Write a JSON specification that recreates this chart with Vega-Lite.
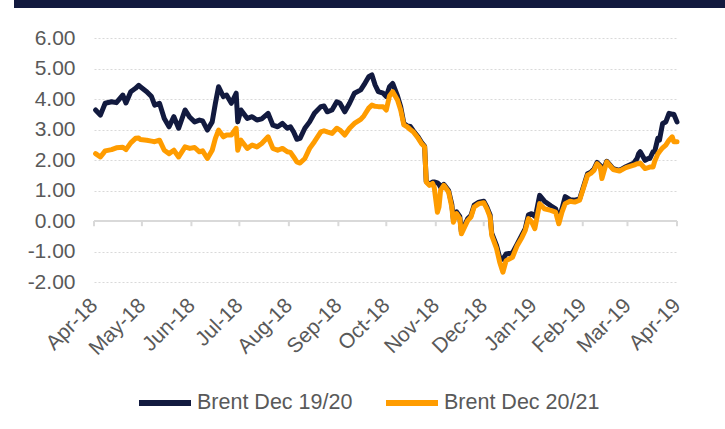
{
  "$schema": "https://vega.github.io/schema/vega-lite/v6.json",
  "padding": {"left": 14, "top": 0, "right": 0, "bottom": 0},
  "background": "white",
  "config": {"font": "Liberation Sans", "view": {"stroke": null}},
  "spacing": 30,
  "bounds": "flush",
  "center": true,
  "vconcat": [
    {
      "width": 743,
      "height": 8,
      "data": {"values": [{"part": "header"}]},
      "mark": {"type": "bar", "color": "#121a3f"},
      "encoding": {}
    },
    {
      "width": 583,
      "height": 244,
      "layer": [
        {
          "data": {"values": [{"line": "zero"}]},
          "mark": {"type": "rule", "color": "#d9d9d9", "strokeWidth": 2},
          "encoding": {
            "y": {
              "datum": 0,
              "type": "quantitative",
              "scale": {"domain": [-2, 6], "nice": false, "zero": false},
              "axis": {
                "title": null,
                "values": [-2, -1, 0, 1, 2, 3, 4, 5, 6],
                "tickCount": 12,
                "labelExpr": "replace(format(datum.value, '.2f'), '\u2212', '-')",
                "labelPadding": 19,
                "labelFontSize": 21,
                "labelColor": "#595959",
                "labelOverlap": false,
                "labelFlush": false,
                "domain": false,
                "ticks": false,
                "tickSize": 0,
                "grid": true,
                "gridColor": "#d9d9d9",
                "gridDash": [2, 2],
                "gridWidth": 1
              }
            }
          }
        },
        {
          "data": {"values": [
            {"month": "2018-04-01"}, {"month": "2018-05-01"}, {"month": "2018-06-01"}, {"month": "2018-07-01"},
            {"month": "2018-08-01"}, {"month": "2018-09-01"}, {"month": "2018-10-01"}, {"month": "2018-11-01"},
            {"month": "2018-12-01"}, {"month": "2019-01-01"}, {"month": "2019-02-01"}, {"month": "2019-03-01"},
            {"month": "2019-04-01"}
          ]},
          "mark": {"type": "rule", "color": "#d9d9d9", "strokeWidth": 2},
          "encoding": {
            "x": {"field": "month", "type": "temporal"},
            "y": {"datum": 0, "type": "quantitative"},
            "y2": {"datum": -0.17}
          }
        },
        {
          "data": {"values": [
            {"date": "2018-04-02", "Brent Dec 19/20": 3.64, "Brent Dec 20/21": 2.21},
            {"date": "2018-04-05", "Brent Dec 19/20": 3.47, "Brent Dec 20/21": 2.10},
            {"date": "2018-04-08", "Brent Dec 19/20": 3.86, "Brent Dec 20/21": 2.30},
            {"date": "2018-04-12", "Brent Dec 19/20": 3.91, "Brent Dec 20/21": 2.34},
            {"date": "2018-04-15", "Brent Dec 19/20": 3.88, "Brent Dec 20/21": 2.40},
            {"date": "2018-04-19", "Brent Dec 19/20": 4.13, "Brent Dec 20/21": 2.42},
            {"date": "2018-04-21", "Brent Dec 19/20": 3.87, "Brent Dec 20/21": 2.34},
            {"date": "2018-04-24", "Brent Dec 19/20": 4.24, "Brent Dec 20/21": 2.56},
            {"date": "2018-04-27", "Brent Dec 19/20": 4.35, "Brent Dec 20/21": 2.71},
            {"date": "2018-04-29", "Brent Dec 19/20": 4.45, "Brent Dec 20/21": 2.72},
            {"date": "2018-04-30", "Brent Dec 19/20": 4.40, "Brent Dec 20/21": 2.67},
            {"date": "2018-05-04", "Brent Dec 19/20": 4.24, "Brent Dec 20/21": 2.65},
            {"date": "2018-05-07", "Brent Dec 19/20": 4.08, "Brent Dec 20/21": 2.62},
            {"date": "2018-05-09", "Brent Dec 19/20": 3.80, "Brent Dec 20/21": 2.60},
            {"date": "2018-05-12", "Brent Dec 19/20": 3.86, "Brent Dec 20/21": 2.65},
            {"date": "2018-05-15", "Brent Dec 19/20": 3.36, "Brent Dec 20/21": 2.32},
            {"date": "2018-05-18", "Brent Dec 19/20": 3.09, "Brent Dec 20/21": 2.21},
            {"date": "2018-05-21", "Brent Dec 19/20": 3.42, "Brent Dec 20/21": 2.32},
            {"date": "2018-05-24", "Brent Dec 19/20": 3.04, "Brent Dec 20/21": 2.10},
            {"date": "2018-05-28", "Brent Dec 19/20": 3.64, "Brent Dec 20/21": 2.43},
            {"date": "2018-05-31", "Brent Dec 19/20": 3.40, "Brent Dec 20/21": 2.38},
            {"date": "2018-06-03", "Brent Dec 19/20": 3.25, "Brent Dec 20/21": 2.41},
            {"date": "2018-06-06", "Brent Dec 19/20": 3.31, "Brent Dec 20/21": 2.27},
            {"date": "2018-06-08", "Brent Dec 19/20": 3.28, "Brent Dec 20/21": 2.30},
            {"date": "2018-06-11", "Brent Dec 19/20": 2.98, "Brent Dec 20/21": 2.05},
            {"date": "2018-06-14", "Brent Dec 19/20": 3.25, "Brent Dec 20/21": 2.32},
            {"date": "2018-06-16", "Brent Dec 19/20": 3.86, "Brent Dec 20/21": 2.71},
            {"date": "2018-06-18", "Brent Dec 19/20": 4.40, "Brent Dec 20/21": 2.98},
            {"date": "2018-06-21", "Brent Dec 19/20": 4.08, "Brent Dec 20/21": 2.76},
            {"date": "2018-06-23", "Brent Dec 19/20": 4.13, "Brent Dec 20/21": 2.82},
            {"date": "2018-06-26", "Brent Dec 19/20": 3.86, "Brent Dec 20/21": 2.82},
            {"date": "2018-06-29", "Brent Dec 19/20": 4.19, "Brent Dec 20/21": 3.04},
            {"date": "2018-06-30", "Brent Dec 19/20": 3.25, "Brent Dec 20/21": 2.32},
            {"date": "2018-07-02", "Brent Dec 19/20": 3.64, "Brent Dec 20/21": 2.65},
            {"date": "2018-07-06", "Brent Dec 19/20": 3.36, "Brent Dec 20/21": 2.38},
            {"date": "2018-07-09", "Brent Dec 19/20": 3.42, "Brent Dec 20/21": 2.49},
            {"date": "2018-07-12", "Brent Dec 19/20": 3.31, "Brent Dec 20/21": 2.43},
            {"date": "2018-07-15", "Brent Dec 19/20": 3.35, "Brent Dec 20/21": 2.54},
            {"date": "2018-07-19", "Brent Dec 19/20": 3.53, "Brent Dec 20/21": 2.76},
            {"date": "2018-07-22", "Brent Dec 19/20": 3.14, "Brent Dec 20/21": 2.38},
            {"date": "2018-07-25", "Brent Dec 19/20": 3.09, "Brent Dec 20/21": 2.32},
            {"date": "2018-07-28", "Brent Dec 19/20": 3.20, "Brent Dec 20/21": 2.38},
            {"date": "2018-07-31", "Brent Dec 19/20": 3.04, "Brent Dec 20/21": 2.27},
            {"date": "2018-08-02", "Brent Dec 19/20": 3.09, "Brent Dec 20/21": 2.25},
            {"date": "2018-08-04", "Brent Dec 19/20": 2.92, "Brent Dec 20/21": 2.10},
            {"date": "2018-08-06", "Brent Dec 19/20": 2.68, "Brent Dec 20/21": 1.94},
            {"date": "2018-08-08", "Brent Dec 19/20": 2.71, "Brent Dec 20/21": 1.90},
            {"date": "2018-08-11", "Brent Dec 19/20": 3.04, "Brent Dec 20/21": 2.05},
            {"date": "2018-08-14", "Brent Dec 19/20": 3.25, "Brent Dec 20/21": 2.38},
            {"date": "2018-08-17", "Brent Dec 19/20": 3.53, "Brent Dec 20/21": 2.60},
            {"date": "2018-08-21", "Brent Dec 19/20": 3.75, "Brent Dec 20/21": 2.92},
            {"date": "2018-08-23", "Brent Dec 19/20": 3.77, "Brent Dec 20/21": 2.96},
            {"date": "2018-08-25", "Brent Dec 19/20": 3.58, "Brent Dec 20/21": 2.92},
            {"date": "2018-08-28", "Brent Dec 19/20": 3.64, "Brent Dec 20/21": 2.87},
            {"date": "2018-08-31", "Brent Dec 19/20": 3.91, "Brent Dec 20/21": 3.04},
            {"date": "2018-09-02", "Brent Dec 19/20": 3.86, "Brent Dec 20/21": 2.98},
            {"date": "2018-09-05", "Brent Dec 19/20": 3.58, "Brent Dec 20/21": 2.82},
            {"date": "2018-09-08", "Brent Dec 19/20": 3.86, "Brent Dec 20/21": 3.04},
            {"date": "2018-09-11", "Brent Dec 19/20": 4.19, "Brent Dec 20/21": 3.20},
            {"date": "2018-09-15", "Brent Dec 19/20": 4.30, "Brent Dec 20/21": 3.33},
            {"date": "2018-09-17", "Brent Dec 19/20": 4.46, "Brent Dec 20/21": 3.45},
            {"date": "2018-09-20", "Brent Dec 19/20": 4.73, "Brent Dec 20/21": 3.70},
            {"date": "2018-09-22", "Brent Dec 19/20": 4.79, "Brent Dec 20/21": 3.80},
            {"date": "2018-09-24", "Brent Dec 19/20": 4.46, "Brent Dec 20/21": 3.76},
            {"date": "2018-09-26", "Brent Dec 19/20": 4.24, "Brent Dec 20/21": 3.75},
            {"date": "2018-09-29", "Brent Dec 19/20": 4.19, "Brent Dec 20/21": 3.75},
            {"date": "2018-10-01", "Brent Dec 19/20": 4.08, "Brent Dec 20/21": 3.64},
            {"date": "2018-10-03", "Brent Dec 19/20": 4.40, "Brent Dec 20/21": 4.10},
            {"date": "2018-10-05", "Brent Dec 19/20": 4.51, "Brent Dec 20/21": 4.24},
            {"date": "2018-10-08", "Brent Dec 19/20": 4.10, "Brent Dec 20/21": 3.97},
            {"date": "2018-10-10", "Brent Dec 19/20": 3.75, "Brent Dec 20/21": 3.64},
            {"date": "2018-10-12", "Brent Dec 19/20": 3.20, "Brent Dec 20/21": 3.15},
            {"date": "2018-10-14", "Brent Dec 19/20": 3.12, "Brent Dec 20/21": 3.09},
            {"date": "2018-10-16", "Brent Dec 19/20": 3.10, "Brent Dec 20/21": 3.00},
            {"date": "2018-10-18", "Brent Dec 19/20": 2.95, "Brent Dec 20/21": 2.92},
            {"date": "2018-10-21", "Brent Dec 19/20": 2.75, "Brent Dec 20/21": 2.71},
            {"date": "2018-10-23", "Brent Dec 19/20": 2.58, "Brent Dec 20/21": 2.54},
            {"date": "2018-10-25", "Brent Dec 19/20": 2.45, "Brent Dec 20/21": 2.43},
            {"date": "2018-10-26", "Brent Dec 19/20": 1.30, "Brent Dec 20/21": 1.28},
            {"date": "2018-10-28", "Brent Dec 19/20": 1.20, "Brent Dec 20/21": 1.17},
            {"date": "2018-10-30", "Brent Dec 19/20": 1.28, "Brent Dec 20/21": 1.23},
            {"date": "2018-10-31", "Brent Dec 19/20": 1.28, "Brent Dec 20/21": 1.10},
            {"date": "2018-11-02", "Brent Dec 19/20": 1.25, "Brent Dec 20/21": 0.29},
            {"date": "2018-11-03", "Brent Dec 19/20": 1.20, "Brent Dec 20/21": 0.46},
            {"date": "2018-11-04", "Brent Dec 19/20": 1.10, "Brent Dec 20/21": 1.01},
            {"date": "2018-11-06", "Brent Dec 19/20": 1.20, "Brent Dec 20/21": 1.17},
            {"date": "2018-11-09", "Brent Dec 19/20": 1.00, "Brent Dec 20/21": 0.95},
            {"date": "2018-11-11", "Brent Dec 19/20": 0.55, "Brent Dec 20/21": 0.46},
            {"date": "2018-11-12", "Brent Dec 19/20": 0.05, "Brent Dec 20/21": -0.04},
            {"date": "2018-11-14", "Brent Dec 19/20": 0.30, "Brent Dec 20/21": 0.24},
            {"date": "2018-11-16", "Brent Dec 19/20": 0.15, "Brent Dec 20/21": 0.08},
            {"date": "2018-11-17", "Brent Dec 19/20": -0.35, "Brent Dec 20/21": -0.42},
            {"date": "2018-11-19", "Brent Dec 19/20": -0.15, "Brent Dec 20/21": -0.20},
            {"date": "2018-11-21", "Brent Dec 19/20": 0.08, "Brent Dec 20/21": 0.02},
            {"date": "2018-11-23", "Brent Dec 19/20": 0.18, "Brent Dec 20/21": 0.13},
            {"date": "2018-11-25", "Brent Dec 19/20": 0.52, "Brent Dec 20/21": 0.46},
            {"date": "2018-11-28", "Brent Dec 19/20": 0.62, "Brent Dec 20/21": 0.57},
            {"date": "2018-12-01", "Brent Dec 19/20": 0.65, "Brent Dec 20/21": 0.60},
            {"date": "2018-12-03", "Brent Dec 19/20": 0.45, "Brent Dec 20/21": 0.40},
            {"date": "2018-12-05", "Brent Dec 19/20": 0.20, "Brent Dec 20/21": 0.13},
            {"date": "2018-12-06", "Brent Dec 19/20": -0.40, "Brent Dec 20/21": -0.47},
            {"date": "2018-12-09", "Brent Dec 19/20": -0.80, "Brent Dec 20/21": -0.90},
            {"date": "2018-12-11", "Brent Dec 19/20": -1.20, "Brent Dec 20/21": -1.35},
            {"date": "2018-12-13", "Brent Dec 19/20": -1.25, "Brent Dec 20/21": -1.68},
            {"date": "2018-12-15", "Brent Dec 19/20": -1.08, "Brent Dec 20/21": -1.30},
            {"date": "2018-12-19", "Brent Dec 19/20": -1.05, "Brent Dec 20/21": -1.19},
            {"date": "2018-12-22", "Brent Dec 19/20": -0.75, "Brent Dec 20/21": -0.80},
            {"date": "2018-12-25", "Brent Dec 19/20": -0.45, "Brent Dec 20/21": -0.53},
            {"date": "2018-12-27", "Brent Dec 19/20": -0.25, "Brent Dec 20/21": -0.31},
            {"date": "2018-12-29", "Brent Dec 19/20": 0.20, "Brent Dec 20/21": 0.08},
            {"date": "2018-12-31", "Brent Dec 19/20": 0.24, "Brent Dec 20/21": -0.03},
            {"date": "2019-01-02", "Brent Dec 19/20": 0.15, "Brent Dec 20/21": -0.25},
            {"date": "2019-01-03", "Brent Dec 19/20": 0.30, "Brent Dec 20/21": 0.02},
            {"date": "2019-01-05", "Brent Dec 19/20": 0.84, "Brent Dec 20/21": 0.57},
            {"date": "2019-01-08", "Brent Dec 19/20": 0.65, "Brent Dec 20/21": 0.40},
            {"date": "2019-01-12", "Brent Dec 19/20": 0.50, "Brent Dec 20/21": 0.35},
            {"date": "2019-01-15", "Brent Dec 19/20": 0.40, "Brent Dec 20/21": 0.29},
            {"date": "2019-01-17", "Brent Dec 19/20": 0.05, "Brent Dec 20/21": -0.09},
            {"date": "2019-01-19", "Brent Dec 19/20": 0.40, "Brent Dec 20/21": 0.29},
            {"date": "2019-01-21", "Brent Dec 19/20": 0.80, "Brent Dec 20/21": 0.57},
            {"date": "2019-01-24", "Brent Dec 19/20": 0.70, "Brent Dec 20/21": 0.65},
            {"date": "2019-01-27", "Brent Dec 19/20": 0.68, "Brent Dec 20/21": 0.62},
            {"date": "2019-01-30", "Brent Dec 19/20": 0.72, "Brent Dec 20/21": 0.68},
            {"date": "2019-02-01", "Brent Dec 19/20": 1.05, "Brent Dec 20/21": 1.01},
            {"date": "2019-02-04", "Brent Dec 19/20": 1.55, "Brent Dec 20/21": 1.50},
            {"date": "2019-02-06", "Brent Dec 19/20": 1.60, "Brent Dec 20/21": 1.56},
            {"date": "2019-02-08", "Brent Dec 19/20": 1.70, "Brent Dec 20/21": 1.66},
            {"date": "2019-02-10", "Brent Dec 19/20": 1.92, "Brent Dec 20/21": 1.88},
            {"date": "2019-02-12", "Brent Dec 19/20": 1.82, "Brent Dec 20/21": 1.77},
            {"date": "2019-02-13", "Brent Dec 19/20": 1.56, "Brent Dec 20/21": 1.39},
            {"date": "2019-02-16", "Brent Dec 19/20": 1.96, "Brent Dec 20/21": 1.94},
            {"date": "2019-02-20", "Brent Dec 19/20": 1.72, "Brent Dec 20/21": 1.69},
            {"date": "2019-02-24", "Brent Dec 19/20": 1.66, "Brent Dec 20/21": 1.64},
            {"date": "2019-02-28", "Brent Dec 19/20": 1.78, "Brent Dec 20/21": 1.75},
            {"date": "2019-03-05", "Brent Dec 19/20": 1.90, "Brent Dec 20/21": 1.83},
            {"date": "2019-03-07", "Brent Dec 19/20": 2.05, "Brent Dec 20/21": 1.88},
            {"date": "2019-03-08", "Brent Dec 19/20": 2.21, "Brent Dec 20/21": 1.88},
            {"date": "2019-03-09", "Brent Dec 19/20": 2.27, "Brent Dec 20/21": 1.90},
            {"date": "2019-03-12", "Brent Dec 19/20": 1.99, "Brent Dec 20/21": 1.72},
            {"date": "2019-03-14", "Brent Dec 19/20": 2.05, "Brent Dec 20/21": 1.75},
            {"date": "2019-03-15", "Brent Dec 19/20": 2.05, "Brent Dec 20/21": 1.77},
            {"date": "2019-03-17", "Brent Dec 19/20": 2.27, "Brent Dec 20/21": 1.77},
            {"date": "2019-03-18", "Brent Dec 19/20": 2.27, "Brent Dec 20/21": 1.95},
            {"date": "2019-03-20", "Brent Dec 19/20": 2.71, "Brent Dec 20/21": 2.20},
            {"date": "2019-03-21", "Brent Dec 19/20": 2.65, "Brent Dec 20/21": 2.27},
            {"date": "2019-03-23", "Brent Dec 19/20": 3.20, "Brent Dec 20/21": 2.40},
            {"date": "2019-03-25", "Brent Dec 19/20": 3.25, "Brent Dec 20/21": 2.49},
            {"date": "2019-03-27", "Brent Dec 19/20": 3.53, "Brent Dec 20/21": 2.65},
            {"date": "2019-03-29", "Brent Dec 19/20": 3.50, "Brent Dec 20/21": 2.76},
            {"date": "2019-03-30", "Brent Dec 19/20": 3.50, "Brent Dec 20/21": 2.60},
            {"date": "2019-04-01", "Brent Dec 19/20": 3.25, "Brent Dec 20/21": 2.60}
          ]},
          "transform": [{"fold": ["Brent Dec 19/20", "Brent Dec 20/21"], "as": ["series", "value"]}],
          "mark": {"type": "line", "strokeWidth": 5, "strokeJoin": "round", "strokeCap": "round"},
          "encoding": {
            "x": {
              "field": "date",
              "type": "temporal",
              "scale": {"domain": [{"year": 2018, "month": 4, "date": 1}, {"year": 2019, "month": 4, "date": 1}]},
              "axis": {
                "title": null,
                "format": "%b-%y",
                "tickCount": {"interval": "month", "step": 1},
                "labelAngle": -45,
                "labelAlign": "right",
                "labelBaseline": "middle",
                "labelPadding": 20,
                "labelFontSize": 21,
                "labelColor": "#595959",
                "labelOverlap": false,
                "labelFlush": false,
                "domain": false,
                "ticks": false,
                "tickSize": 0,
                "grid": false
              }
            },
            "y": {
              "field": "value",
              "type": "quantitative",
              "scale": {"domain": [-2, 6], "nice": false, "zero": false},
              "axis": {
                "title": null,
                "values": [-2, -1, 0, 1, 2, 3, 4, 5, 6],
                "tickCount": 12,
                "labelExpr": "replace(format(datum.value, '.2f'), '\u2212', '-')",
                "labelPadding": 19,
                "labelFontSize": 21,
                "labelColor": "#595959",
                "labelOverlap": false,
                "labelFlush": false,
                "domain": false,
                "ticks": false,
                "tickSize": 0,
                "grid": true,
                "gridColor": "#d9d9d9",
                "gridDash": [2, 2],
                "gridWidth": 1
              }
            },
            "color": {
              "field": "series",
              "type": "nominal",
              "scale": {"domain": ["Brent Dec 19/20", "Brent Dec 20/21"], "range": ["#121a3f", "#ff9c00"]},
              "legend": {
                "title": null,
                "orient": "none",
                "legendX": 122,
                "legendY": 374,
                "direction": "horizontal",
                "symbolType": "stroke",
                "symbolStrokeWidth": 6,
                "symbolSize": 2704,
                "labelFontSize": 21.5,
                "labelColor": "#595959",
                "labelOffset": 3,
                "columnPadding": 21
              }
            }
          }
        }
      ]
    }
  ]
}
